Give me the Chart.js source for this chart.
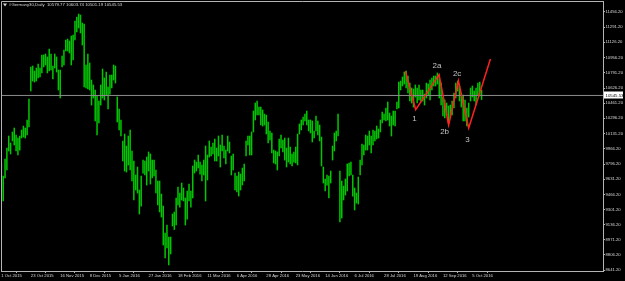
<!DOCTYPE html>
<html><head><meta charset="utf-8">
<script src="https://cdn.jsdelivr.net/npm/chart.js@4.4.0/dist/chart.umd.min.js"></script>
<style>html,body{margin:0;padding:0;background:#000;overflow:hidden}#wrap{width:625px;height:281px;position:relative}</style>
</head><body><div id="wrap"><canvas id="c" width="625" height="281"></canvas></div>
<script>
const symbolTitle = '#Germany30,Daily';
const lastOHLC = [10579.77, 10603.74, 10501.19, 10545.53];
const currentPrice = 10545.53;

// daily highs (one per trading day from 1 Oct 2015)
const highs = [
9809,9667,9852,9972,10103,10027,10147,10190,10114,10081,
10103,10169,10212,10190,10278,10507,10856,10867,10812,10845,
10889,10845,10987,10987,10998,10965,11052,10998,10867,10998,
10965,10823,10823,10976,11041,11151,11161,11140,11194,11205,
11358,11402,11434,11423,11336,11325,10878,10998,10900,10714,
10660,10605,10540,10485,10660,10834,10736,10801,10638,10769,
10769,10878,10867,10529,10398,10278,
10049,10125,9994,10103,
10169,9940,9830,9678,9765,9514,9667,9841,9830,9874,
9929,9907,9841,9841,9732,9612,9612,9470,9339,9045,
9132,9001,9001,9252,9274,9427,9547,9481,9590,9536,
9427,9503,9579,9503,9776,9841,9819,9896,9819,9787,
9841,9994,9896,10049,9983,10027,10071,9972,10103,10005,
10114,9994,9950,10103,10038,9885,9907,9699,9667,9710,
9688,9754,9798,10049,
10103,10103,10147,10376,10463,10485,
10419,10419,10387,10343,10332,10256,10158,10136,9950,9940,
9929,10071,10114,10060,10081,9972,10081,9983,9907,9929,
9983,10125,10234,10278,10310,10343,10376,10278,10278,10267,
10158,10321,10267,10223,10092,9765,9634,9678,9667,9721,
9994,10136,10158,10343,9721,9612,9557,9634,9798,9809,
9819,9678,9536,9481,9656,9841,10016,10005,10114,
10103,10158,10103,10169,10158,10212,10180,10278,10365,10343,10409,
10474,10354,10321,10376,10376,10474,10692,10703,10747,10801,
10812,10758,10681,10627,10616,10660,10627,10660,10605,10605,
10561,10681,10670,10714,10736,10758,10758,10791,10769,10681,
10529,10496,10463,10430,10441,10485,10572,10681,10703,10649,
10572,10550,10496,10409,10463,10627,10649,10594,10627,10681,
10692,10603.74
];
// daily lows
const lows = [
9481,9394,9645,9732,9940,9907,10049,10005,9940,9896,
9950,10081,10092,10081,10114,10201,10594,10703,10692,10703,
10736,10747,10791,10856,10878,10791,10812,10823,10725,10845,
10801,10605,10518,10856,10878,11031,11031,11009,10878,10932,
11151,11238,11282,11227,11096,10638,10627,10616,10605,10441,
10518,10267,10114,10245,10441,10518,10496,10550,10398,10561,
10627,10714,10681,10256,10169,10103,
9830,9721,9710,9787,
9732,9612,9405,9514,9481,9252,9339,9699,9678,9568,
9721,9579,9645,9667,9481,9350,9274,9219,8914,8772,
8881,8696,8816,9121,9083,9132,9350,9328,9405,9394,
9132,9197,9394,9328,9427,9699,9721,9754,9688,9612,
9678,9394,9623,9874,9885,9907,9830,9830,9885,9765,
9940,9863,9798,9940,9918,9678,9732,9514,9492,9448,
9514,9568,9612,9885,
10005,9896,9896,10147,10278,10332,
10332,10223,10212,10223,10125,10027,10060,9918,9809,9798,
9732,9885,9972,9929,9841,9765,9819,9798,9776,9819,
9809,9787,10125,10169,10223,10267,10223,10158,10136,10038,
10081,10158,10114,10049,9776,9590,9503,9568,9427,9590,
9841,9940,10049,10103,9165,9208,9405,9459,9503,9667,
9678,9448,9296,9372,9361,9678,9787,9896,9950,
9950,10005,9918,10005,10049,10071,10081,10147,10245,10278,10267,
10278,10212,10103,10223,10212,10398,10409,10605,10649,10670,
10627,10572,10485,10463,10419,10529,10463,10496,10485,10485,
10441,10518,10550,10496,10605,10649,10649,10670,10518,10441,
10321,10300,10332,10245,10300,10332,10409,10518,10594,10485,
10419,10267,10267,10212,10310,10485,10529,10485,10441,10550,
10540,10501.19
];

const dateLabels = ['1 Oct 2015','23 Oct 2015','16 Nov 2015','8 Dec 2015','5 Jan 2016','27 Jan 2016','18 Feb 2016','11 Mar 2016','6 Apr 2016','28 Apr 2016','23 May 2016','14 Jun 2016','6 Jul 2016','28 Jul 2016','19 Aug 2016','12 Sep 2016','5 Oct 2016'];
const dateTickIndex = [0,16,32,48,64,80,96,112,128,144,160,176,192,208,224,240,256];
const priceTicks = [11456.2,11291.2,11126.2,10956.2,10791.2,10626.2,10461.2,10296.2,10131.2,9966.2,9796.2,9631.2,9466.2,9301.2,9136.2,8971.2,8806.2,8641.2];

// Elliott-wave zigzag (bar index, price) and its labels
const waveX = [219.6,225.2,237.9,243.1,248.4,254.0,265.8];
const waveY = [10809,10390,10772,10223,10706,10190,10943];
const waveLabels = ['1','2a','2b','2c','3'];
const waveLabelX = [224.6,236.8,240.9,247.7,253.3];
const waveLabelY = [10289,10870,10147,10780,10063];

const xMin = -0.2, xMax = 327.0;
const yMin = 8630.3, yMax = 11576.2;

const FONT = '"Liberation Sans", Arial, sans-serif';
const AXIS = '#b4b4b4';
const TXT = '#d8d8d8';

const overlay = {
  id:'overlay',
  afterDraw(chart){
    const c = chart.ctx, a = chart.chartArea, ys = chart.scales.y, xs = chart.scales.x;
    c.save();
    c.strokeStyle = AXIS; c.lineWidth = 1;
    c.beginPath();
    c.moveTo(a.left+0.5, a.bottom); c.lineTo(a.left+0.5, a.top+0.5); c.lineTo(a.right, a.top+0.5);
    c.stroke();
    c.fillStyle = '#c4c4c4';
    c.font = '8px ' + FONT;
    c.textAlign = 'center'; c.textBaseline = 'middle';
    waveLabels.forEach((t,i)=>{
      c.fillText(t, xs.getPixelForValue(waveLabelX[i]), ys.getPixelForValue(waveLabelY[i]));
    });
    const py = ys.getPixelForValue(currentPrice);
    c.fillStyle = '#ffffff';
    c.fillRect(a.right+1, Math.round(py)-3.5, 19, 7);
    c.fillStyle = '#000000';
    c.font = '4.3px ' + FONT;
    c.textAlign = 'left';
    c.fillText(currentPrice.toFixed(2), a.right+2.5, py);
    c.fillStyle = TXT;
    c.beginPath(); c.moveTo(3,3.5); c.lineTo(7,3.5); c.lineTo(5,6.5); c.closePath(); c.fill();
    c.font = '4.3px ' + FONT;
    c.textAlign = 'left'; c.textBaseline = 'middle';
    c.fillText(symbolTitle + '  ' + lastOHLC.map(v=>v.toFixed(2)).join(' '), 9, 5);
    c.restore();
  }
};

new Chart(document.getElementById('c'), {
  type:'bar',
  data:{datasets:[
    {type:'line', data: waveX.map((x,i)=>({x:x, y:waveY[i]})), borderColor:'#ff2020', borderWidth:1.5, pointRadius:0, tension:0, order:0},
    {type:'line', data:[{x:xMin,y:currentPrice},{x:xMax,y:currentPrice}], borderColor:'#8c8c8c', borderWidth:1, pointRadius:0, order:1},
    {type:'bar', data: highs.map((h,i)=>({x:i, y:[lows[i], h]})), backgroundColor:'#00c800', borderWidth:0, barThickness:0.85, grouped:false, order:2}
  ]},
  options:{
    responsive:false, animation:false, devicePixelRatio:1,
    events:[],
    plugins:{legend:{display:false}, tooltip:{enabled:false}},
    layout:{padding:{left:1, top:1, right:0, bottom:0}},
    scales:{
      x:{type:'linear', min:xMin, max:xMax, offset:false,
        grid:{drawOnChartArea:false, drawTicks:true, tickLength:2, color:AXIS},
        border:{display:true, color:AXIS, width:1},
        ticks:{autoSkip:false, maxRotation:0, minRotation:0, align:'start', padding:0.5, color:TXT,
          font:{family:FONT, size:4.2}, callback:(v,i)=>dateLabels[i]},
        afterBuildTicks:s=>{s.ticks = dateTickIndex.map(v=>({value:v}));},
        afterFit:s=>{s.height = 10; s.paddingLeft = 0; s.paddingRight = 0;}
      },
      y:{type:'linear', position:'right', min:yMin, max:yMax,
        grid:{drawOnChartArea:false, drawTicks:true, tickLength:2, color:AXIS},
        border:{display:true, color:AXIS, width:1},
        ticks:{autoSkip:false, padding:0.5, color:TXT, font:{family:FONT, size:4.2}, callback:v=>Number(v).toFixed(2)},
        afterBuildTicks:s=>{s.ticks = priceTicks.map(v=>({value:v}));},
        afterFit:s=>{s.width = 22; s.paddingTop = 0; s.paddingBottom = 0;}
      }
    }
  },
  plugins:[overlay]
});
</script></body></html>
